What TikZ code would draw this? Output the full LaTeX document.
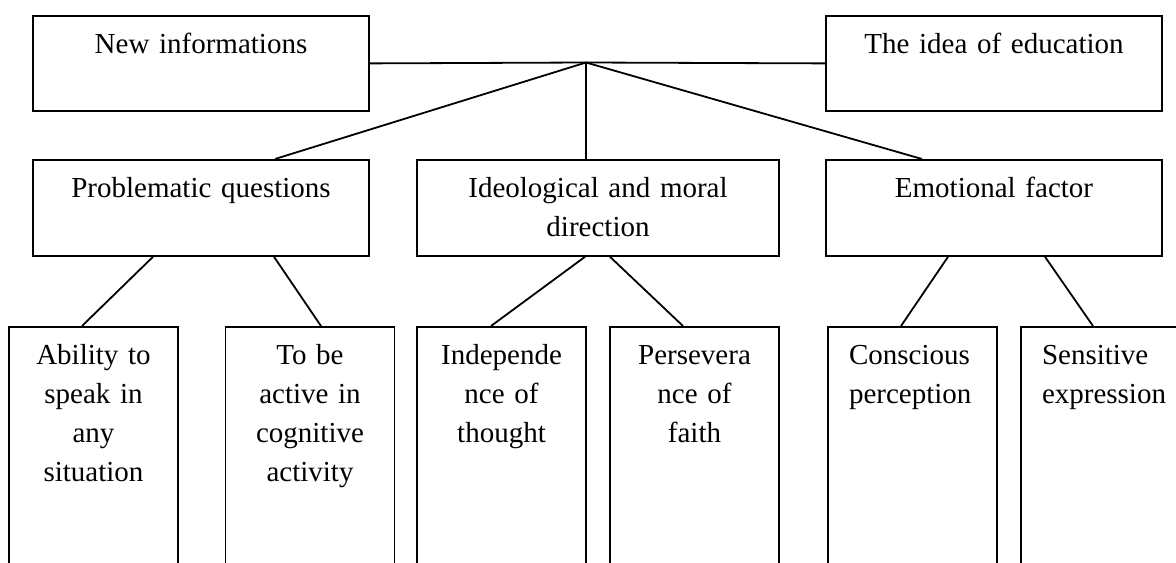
\documentclass[tikz,border=0pt]{standalone}
\usepackage{fontspec}
\setmainfont{Liberation Serif}
\tikzset{
  box/.style={draw, line width=0.9pt, anchor=north, inner ysep=0pt, inner xsep=10.5pt,
    text height=19pt, font=\fontsize{14.5pt}{19.5pt}\selectfont},
  topbox/.style={box, text width=147pt, text depth=28.5pt, align=center},
  midbox/.style={box, text depth=29pt, align=center},
  leafbox/.style={box, text width=63.5pt, text depth=131pt, align=center},
  link/.style={line width=0.9pt}
}
\begin{document}
\begin{tikzpicture}[x=0.5pt,y=-0.5pt]
            \useasboundingbox (0,0) rectangle (1176,562);
            \clip (0,0) rectangle (1176,562);
            % Nodes
            \node[topbox] (ni) at (201,15) {New informations};
            \node[topbox] (edu) at (994,15) {The idea of education};
            \coordinate (hub) at (586,62.5);
            \node[midbox, text width=147pt] (prob) at (201,159) {Problematic questions};
            \node[midbox, text width=160pt] (ideo) at (598,159) {Ideological and moral\\direction};
            \node[midbox, text width=147pt] (emo) at (994,159) {Emotional factor};
            \node[leafbox] (abil) at (93.5,326) {Ability to\\speak in\\any\\situation};
            \node[leafbox] (act) at (310,326) {To be\\active in\\cognitive\\activity};
            \node[leafbox] (indep) at (501.5,326) {Independe\\nce of\\thought};
            \node[leafbox] (pers) at (694.5,326) {Persevera\\nce of\\faith};
            \node[leafbox, align=left] (consc) at (912.5,326) {Conscious\\perception};
            \node[leafbox, align=left] (sens) at (1105.5,326) {Sensitive\\expression};
            % Edges
            \draw[link] (ni.east) -- (hub) -- (edu.west);
            \draw[link] (hub) -- ([xshift=37pt]prob.north);
            \draw[link] (hub) -- (hub |- ideo.north);
            \draw[link] (hub) -- ([xshift=-36pt]emo.north);
            \draw[link] ([xshift=-24pt]prob.south) -- ([xshift=-5.75pt]abil.north);
            \draw[link] ([xshift=36.5pt]prob.south) -- ([xshift=5.5pt]act.north);
            \draw[link] ([xshift=-6.5pt]ideo.south) -- ([xshift=-5.25pt]indep.north);
            \draw[link] ([xshift=6pt]ideo.south) -- ([xshift=-5.75pt]pers.north);
            \draw[link] ([xshift=-23pt]emo.south) -- ([xshift=-5.75pt]consc.north);
            \draw[link] ([xshift=25.5pt]emo.south) -- ([xshift=-6.25pt]sens.north);
\end{tikzpicture}
\end{document}
